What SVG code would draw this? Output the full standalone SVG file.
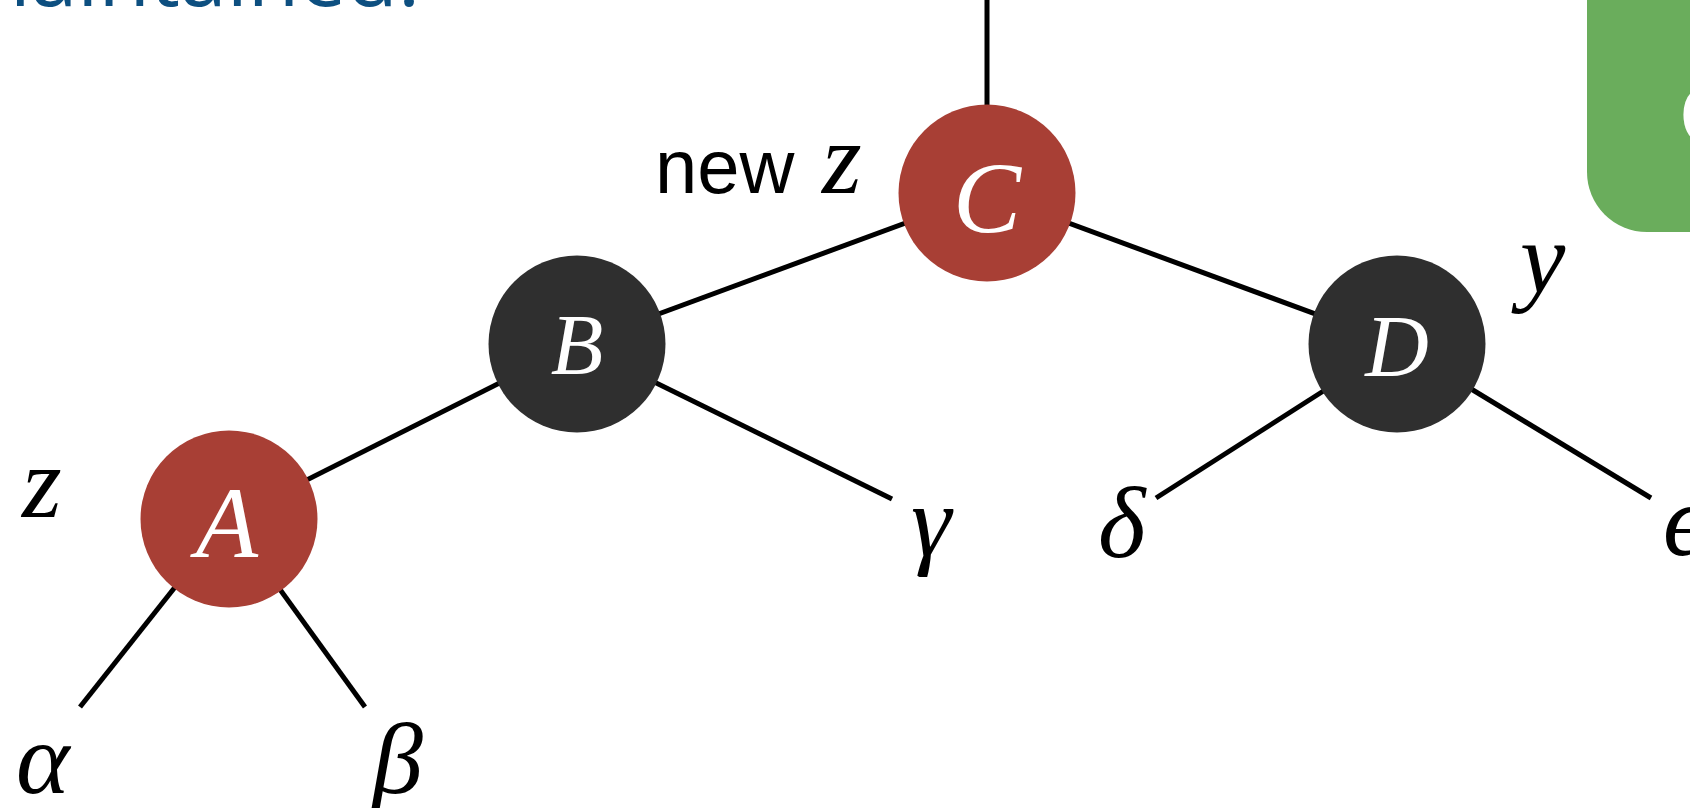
<svg xmlns="http://www.w3.org/2000/svg" width="1690" height="808" viewBox="0 0 1690 808">
<style>
.edge{stroke:#000;stroke-width:5;fill:none}
.red{fill:#a83f35}
.blk{fill:#2f2f2f}
.nl{font-family:"Liberation Serif","Times New Roman",serif;font-style:italic;fill:#fff;text-anchor:middle}
.lab{font-family:"Liberation Serif","Times New Roman",serif;font-style:italic;fill:#000;font-size:102px}
.sans{font-family:"Liberation Sans",Arial,sans-serif;fill:#000}
</style>
<rect width="1690" height="808" fill="#fff"/>
<text id="title" x="420" y="6" font-family="'Open Sans',sans-serif" font-size="84" fill="#0d4f80" text-anchor="end">maintained.</text>
<g id="greenbox">
<rect x="1587" y="-80" width="200" height="312" rx="60" fill="#6aad5c"/>
<text x="1679" y="145" font-family="'Liberation Sans',Arial,sans-serif" font-size="88" fill="#fff">C</text>
</g>
<g id="connectors">
<line class="edge" x1="987" y1="0" x2="987" y2="193"/>
<line class="edge" x1="987" y1="193" x2="577" y2="344"/>
<line class="edge" x1="987" y1="193" x2="1397" y2="344"/>
<line class="edge" x1="577" y1="344" x2="229" y2="519"/>
<line class="edge" x1="577" y1="344" x2="892" y2="499"/>
<line class="edge" x1="229" y1="519" x2="80" y2="707"/>
<line class="edge" x1="229" y1="519" x2="365" y2="707"/>
<line class="edge" x1="1397" y1="344" x2="1156" y2="498"/>
<line class="edge" x1="1397" y1="344" x2="1651" y2="498"/>
</g>
<g id="node-C">
<circle class="red" cx="987" cy="193" r="88.5"/>
<text class="nl" x="987" y="233" font-size="102">C</text>
</g>
<g id="node-B">
<circle class="blk" cx="577" cy="344" r="88.5"/>
<text class="nl" x="577" y="374" font-size="86">B</text>
</g>
<g id="node-D">
<circle class="blk" cx="1397" cy="344" r="88.5"/>
<text class="nl" x="1397" y="376" font-size="88">D</text>
</g>
<g id="node-A">
<circle class="red" cx="229" cy="519" r="88.5"/>
<text class="nl" x="227" y="557" font-size="102">A</text>
</g>
<g id="labels">
<text class="sans" x="655" y="193" font-size="76">new</text>
<text class="lab" x="822" y="193">z</text>
<text class="lab" x="22" y="517">z</text>
<text class="lab" x="1520" y="292">y</text>
<text class="lab" x="16" y="793">α</text>
<text class="lab" x="372" y="793">β</text>
<text class="lab" x="911" y="555">γ</text>
<text class="lab" x="1098" y="557">δ</text>
<text class="lab" x="1663" y="555">ϵ</text>
</g>
</svg>
